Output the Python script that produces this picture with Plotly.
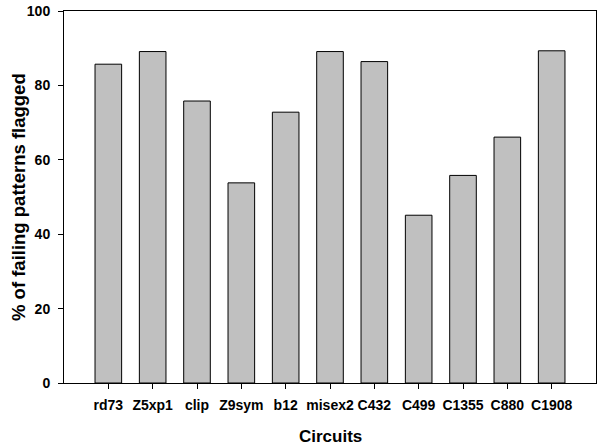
import plotly.graph_objects as go

circuits = ["rd73", "Z5xp1", "clip", "Z9sym", "b12", "misex2", "C432", "C499", "C1355", "C880", "C1908"]
flagged_pct = [85.7, 89.1, 75.8, 53.8, 72.8, 89.1, 86.4, 45.1, 55.8, 66.1, 89.3]
y_ticks = [0, 20, 40, 60, 80, 100]

positions = list(range(len(circuits)))

fig = go.Figure(go.Bar(
    x=positions, y=flagged_pct, width=0.6,
    marker=dict(color="#c0c0c0", line=dict(color="#000000", width=1)),
))

font = "Liberation Sans, Arial, sans-serif"
fig.update_layout(
    width=597, height=446,
    margin=dict(l=64, r=1, t=11, b=63),
    plot_bgcolor="white", paper_bgcolor="white",
    showlegend=False,
    font=dict(family=font, color="black"),
    xaxis=dict(
        range=[-1, len(circuits)], tickmode="array", tickvals=positions, ticktext=circuits,
        ticks="outside", ticklen=5, tickcolor="black", tickwidth=1,
        showline=True, linecolor="black", linewidth=1, mirror=True, showgrid=False,
        zeroline=False, automargin=False, ticklabelstandoff=4,
        tickfont=dict(size=14, family=font, weight="bold"),
    ),
    yaxis=dict(
        range=[0, 100], tickmode="array", tickvals=y_ticks,
        ticks="outside", ticklen=5, tickcolor="black", tickwidth=1,
        showline=True, linecolor="black", linewidth=1, mirror=True, showgrid=False,
        zeroline=False, automargin=False, ticklabelstandoff=5,
        tickfont=dict(size=14, family=font, weight="bold"),
    ),
    annotations=[
        dict(text="<b>Circuits</b>", xref="paper", yref="paper", x=0.5, y=0,
             yshift=-53, xanchor="center", yanchor="middle", showarrow=False,
             font=dict(size=17, family=font, color="black")),
        dict(text="<b>% of failing patterns flagged</b>", xref="paper", yref="paper",
             x=0, y=0.5, xshift=-46, xanchor="center", yanchor="middle", textangle=-90,
             showarrow=False, font=dict(size=18.5, family=font, color="black")),
    ],
)

fig.write_html("out.html", config={"displayModeBar": False},
               post_script="document.body.style.margin='0';")
